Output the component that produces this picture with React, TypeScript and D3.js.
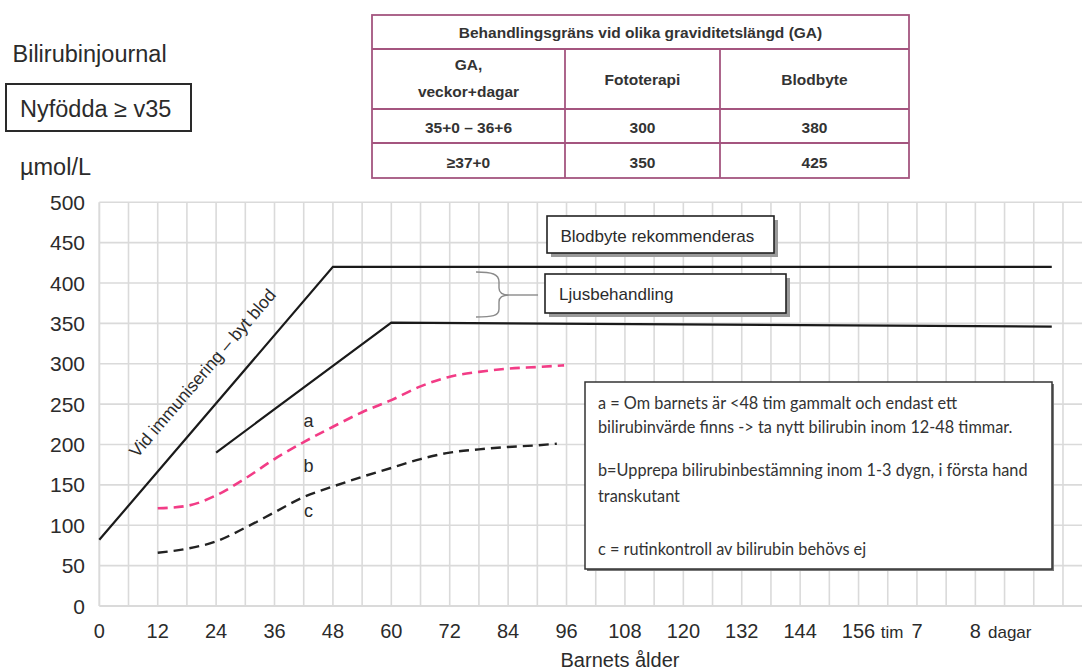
import React from 'react';
import * as d3 from 'd3';

// ---------- data ----------
const yTicks = [0, 50, 100, 150, 200, 250, 300, 350, 400, 450, 500];
const hourTicks = [0, 12, 24, 36, 48, 60, 72, 84, 96, 108, 120, 132, 144, 156];
const dayTicks = [
  { h: 168, label: '7' },
  { h: 180, label: '8' },
];
const unitLabels = [
  { h: 162.9, label: 'tim', anchor: 'middle' },
  { h: 182.6, label: 'dagar', anchor: 'start' },
];

// [hour, µmol/L]
const exchangeLine: [number, number][] = [[0, 82], [48, 420], [195.7, 420]];
const phototherapyLine: [number, number][] = [[24, 190], [60, 351], [195.7, 346]];
const pinkCurve: [number, number][] = [
  [12, 121], [18, 124], [24, 137], [30, 158], [36, 182], [42, 203], [48, 222],
  [54, 240], [60, 255], [66, 272], [72, 284], [78, 290], [84, 294], [90, 296], [95.5, 298],
];
const blackCurve: [number, number][] = [
  [12, 66], [18, 71], [24, 80], [30, 97], [36, 116], [42, 135], [48, 148],
  [54, 160], [60, 171], [66, 182], [72, 190], [78, 194], [84, 197], [90, 199], [94, 201],
];
const zoneLabels = [
  { h: 43, v: 222, label: 'a' },
  { h: 43, v: 166, label: 'b' },
  { h: 43, v: 110, label: 'c' },
];

const tableTitle = 'Behandlingsgräns vid olika graviditetslängd (GA)';
const tableHeader = [['GA,', 'veckor+dagar'], ['Fototerapi'], ['Blodbyte']];
const tableRows = [
  ['35+0 – 36+6', '300', '380'],
  ['≥37+0', '350', '425'],
];

const noteLines = [
  'a = Om barnets är <48 tim gammalt och endast ett',
  'bilirubinvärde finns -> ta nytt bilirubin inom 12-48 timmar.',
  'b=Upprepa bilirubinbestämning inom 1-3 dygn, i första hand',
  'transkutant',
  'c = rutinkontroll av bilirubin behövs ej',
];

// ---------- layout ----------
const W = 1082;
const H = 672;
const x = d3.scaleLinear().domain([0, 200]).range([99.3, 1072.7]);
const y = d3.scaleLinear().domain([0, 500]).range([606, 202.3]);

const FONT = '"Liberation Sans", Arial, sans-serif';
const NOTE_FONT = 'Lato, "Liberation Sans", sans-serif';
const TXT = '#2b2b2b';

export default function App() {
  const straight = d3.line<[number, number]>().x(d => x(d[0])).y(d => y(d[1]));
  const smooth = d3
    .line<[number, number]>()
    .x(d => x(d[0]))
    .y(d => y(d[1]))
    .curve(d3.curveMonotoneX);

  const gridX = d3.range(0, 205, 6);

  // rotated label along exchange line
  const p0x = x(exchangeLine[0][0]);
  const p0y = y(exchangeLine[0][1]);
  const p1x = x(exchangeLine[1][0]);
  const p1y = y(exchangeLine[1][1]);
  const ang = Math.atan2(p1y - p0y, p1x - p0x);
  const len = Math.hypot(p1x - p0x, p1y - p0y);
  const dx = (p1x - p0x) / len;
  const dy = (p1y - p0y) / len;
  const footH = 25.9;
  const fx = x(footH);
  const fy = p0y + (fx - p0x) * (dy / dx);
  const off = 24;
  const lx = fx + dy * off; // normal pointing up-left
  const ly = fy - dx * off;

  const colX = [372, 565, 720, 909];
  const rowY = [15, 49, 109, 143, 178];
  const tableStroke = '#a4557f';

  return (
    <svg
      width={W}
      height={H}
      style={{ position: 'absolute', left: 0, top: 0, background: '#fff' }}
      fontFamily={FONT}
    >
      <rect x={0} y={0} width={W} height={H} fill="#fff" />

      {/* grid */}
      {yTicks.map(t => (
        <line key={'gy' + t} x1={x(0)} x2={W} y1={y(t)} y2={y(t)} stroke="#dadada" strokeWidth={t === 0 ? 2.2 : 1.6} />
      ))}
      {gridX.map(h => (
        <line key={'gx' + h} x1={x(h)} x2={x(h)} y1={y(500)} y2={y(0)} stroke="#dadada" strokeWidth={h === 0 ? 2 : 1.6} />
      ))}

      {/* y tick labels */}
      {yTicks.map(t => (
        <text key={'yl' + t} x={85} y={y(t) + 7.5} textAnchor="end" fontSize={21} fill={TXT}>
          {t}
        </text>
      ))}
      {/* x tick labels */}
      {hourTicks.map(h => (
        <text key={'xl' + h} x={x(h)} y={638} textAnchor="middle" fontSize={20} fill={TXT}>
          {h}
        </text>
      ))}
      {dayTicks.map(d => (
        <text key={'dl' + d.label} x={x(d.h)} y={638} textAnchor="middle" fontSize={20} fill={TXT}>
          {d.label}
        </text>
      ))}
      {unitLabels.map(u => (
        <text key={'ul' + u.label} x={x(u.h)} y={638} textAnchor={u.anchor as any} fontSize={17} fill={TXT}>
          {u.label}
        </text>
      ))}
      <text x={620} y={666.5} textAnchor="middle" fontSize={20} fill={TXT}>
        Barnets ålder
      </text>

      {/* lines */}
      <path d={straight(exchangeLine) || ''} fill="none" stroke="#1a1a1a" strokeWidth={2.2} />
      <path d={straight(phototherapyLine) || ''} fill="none" stroke="#1a1a1a" strokeWidth={2.2} />
      <path d={smooth(pinkCurve) || ''} fill="none" stroke="#f23c86" strokeWidth={2.6} strokeDasharray="10 6" />
      <path d={smooth(blackCurve) || ''} fill="none" stroke="#222" strokeWidth={2.4} strokeDasharray="10 6" />

      <text
        x={lx}
        y={ly}
        fontSize={17.5}
        fill={TXT}
        textAnchor="middle"
        transform={`rotate(${(ang * 180) / Math.PI}, ${lx}, ${ly})`}
      >
        Vid immunisering – byt blod
      </text>

      {zoneLabels.map(z => (
        <text key={z.label} x={x(z.h)} y={y(z.v)} textAnchor="middle" fontSize={18} fill={TXT}>
          {z.label}
        </text>
      ))}

      {/* Blodbyte box */}
      <rect x={551} y={220} width={227} height={37} fill="#9a9a9a" />
      <rect x={547} y={216} width={227} height={37} fill="#fff" stroke="#222" strokeWidth={1.6} />
      <text x={560.5} y={241.5} fontSize={17} fill={TXT}>
        Blodbyte rekommenderas
      </text>

      {/* brace */}
      <path
        d="M476,272 C492,272 499,274 499,282 L499,288 C499,293 503,295 509,295 C503,295 499,297 499,302 L499,309 C499,316 492,317 476,317"
        fill="none"
        stroke="#8a8a8a"
        strokeWidth={1.4}
      />
      <line x1={509} x2={538} y1={295} y2={295} stroke="#8a8a8a" strokeWidth={1.4} />

      {/* Ljusbehandling box */}
      <rect x={549} y={278} width={241} height={39} fill="#9a9a9a" />
      <rect x={545} y={274} width={241} height={39} fill="#fff" stroke="#222" strokeWidth={1.6} />
      <text x={559} y={300} fontSize={17} fill={TXT}>
        Ljusbehandling
      </text>

      {/* note box */}
      <rect x={587} y={384} width={467} height={187} fill="#777" />
      <rect x={585} y={382} width={467} height={187} fill="#fff" stroke="#333" strokeWidth={1.5} />
      {noteLines.map((l, i) => (
        <text
          key={'n' + i}
          x={598}
          y={[409.3, 432.7, 476, 501.7, 555][i]}
          fontSize={16.3}
          fontFamily={NOTE_FONT}
          fill="#333"
        >
          {l}
        </text>
      ))}

      {/* titles */}
      <text x={12.5} y={61.7} fontSize={23.5} fill={TXT}>
        Bilirubinjournal
      </text>
      <rect x={6} y={84} width={185} height={47} fill="#fff" stroke="#2a2a2a" strokeWidth={2} />
      <text x={20} y={116.7} fontSize={23.5} fill={TXT}>
        Nyfödda ≥ v35
      </text>
      <text x={20} y={175} fontSize={23.5} fill={TXT}>
        µmol/L
      </text>

      {/* table */}
      <rect x={colX[0]} y={rowY[0]} width={colX[3] - colX[0]} height={rowY[4] - rowY[0]} fill="#fff" stroke={tableStroke} strokeWidth={1.8} />
      {rowY.slice(1, 4).map(ry => (
        <line key={'tr' + ry} x1={colX[0]} x2={colX[3]} y1={ry} y2={ry} stroke={tableStroke} strokeWidth={1.8} />
      ))}
      {colX.slice(1, 3).map(cx => (
        <line key={'tc' + cx} x1={cx} x2={cx} y1={rowY[1]} y2={rowY[4]} stroke={tableStroke} strokeWidth={1.8} />
      ))}
      <g fontWeight="bold" fontSize={15.5} fill="#333" textAnchor="middle">
        <text x={(colX[0] + colX[3]) / 2} y={38.3}>
          {tableTitle}
        </text>
        <text x={(colX[0] + colX[1]) / 2} y={70}>
          {tableHeader[0][0]}
        </text>
        <text x={(colX[0] + colX[1]) / 2} y={96.7}>
          {tableHeader[0][1]}
        </text>
        <text x={(colX[1] + colX[2]) / 2} y={85}>
          {tableHeader[1][0]}
        </text>
        <text x={(colX[2] + colX[3]) / 2} y={85}>
          {tableHeader[2][0]}
        </text>
        {tableRows.map((r, ri) =>
          r.map((c, ci) => (
            <text key={'c' + ri + ci} x={(colX[ci] + colX[ci + 1]) / 2} y={[132.5, 167.5][ri]}>
              {c}
            </text>
          ))
        )}
      </g>
    </svg>
  );
}
